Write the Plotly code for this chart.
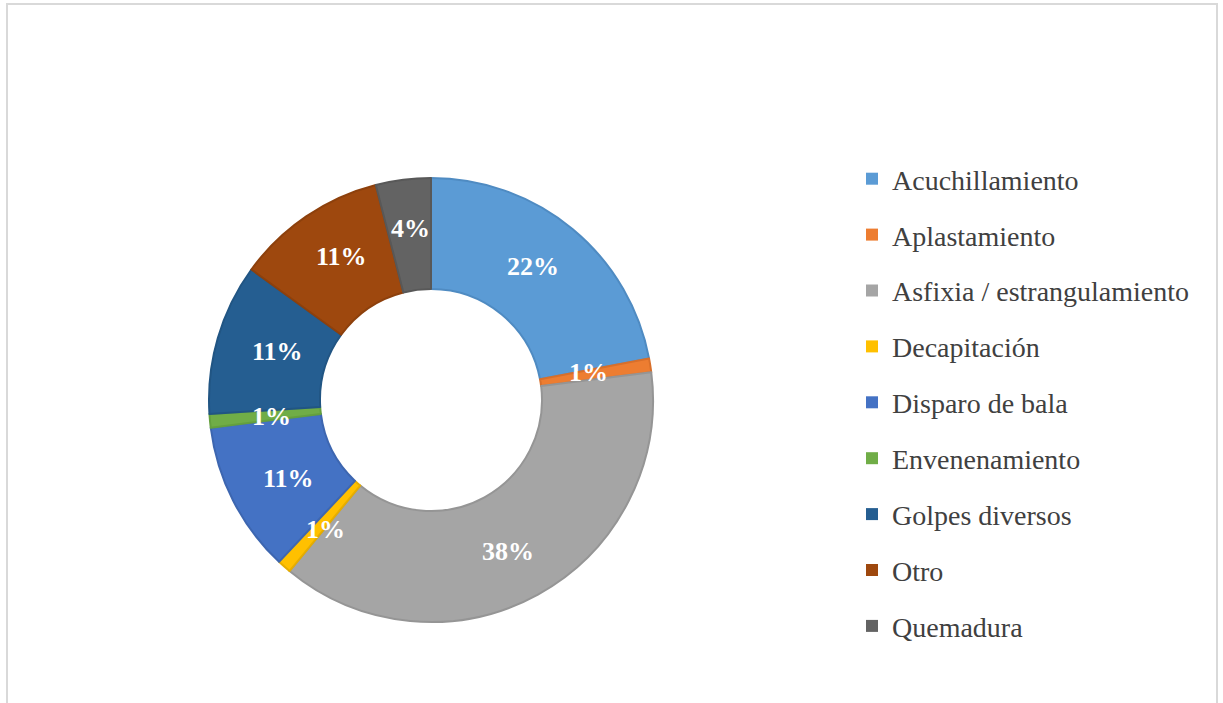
import math
import plotly.graph_objects as go

categories = ["Acuchillamiento", "Aplastamiento", "Asfixia / estrangulamiento",
              "Decapitación", "Disparo de bala", "Envenenamiento",
              "Golpes diversos", "Otro", "Quemadura"]
values = [22, 1, 38, 1, 11, 1, 11, 11, 4]
colors = ["#5B9BD5", "#ED7D31", "#A5A5A5", "#FFC000", "#4472C4",
          "#70AD47", "#255E91", "#9E480E", "#636363"]
line_colors = ["#4F8BC2", "#D86F2A", "#959595", "#E6AD00", "#3D66B0",
               "#64A03E", "#215583", "#8D400C", "#585858"]

W, H = 1223, 703
cx, cy, r = 431, 400, 222
HOLE = 0.5

fig = go.Figure()
fig.add_trace(go.Pie(
    labels=categories, values=values, sort=False, direction="clockwise",
    rotation=0, hole=HOLE,
    marker=dict(colors=colors, line=dict(color=line_colors, width=2)),
    textinfo="none",
    domain=dict(x=[(cx - r) / W, (cx + r) / W], y=[1 - (cy + r) / H, 1 - (cy - r) / H]),
    showlegend=False, hoverinfo="label+percent",
))

# percentage labels at the middle of each slice (angle and ring radius)
total = sum(values)
cum = 0
rm = r * (1 + HOLE) / 2
annotations = []
for v in values:
    mid = (cum + v / 2) / total
    cum += v
    th = 2 * math.pi * mid
    px = cx + 0.96 * rm * math.sin(th)
    py = cy - 1.04 * rm * math.cos(th)
    annotations.append(dict(
        x=px / W, y=1 - py / H, xref="paper", yref="paper", showarrow=False,
        xanchor="center", yanchor="middle",
        text=f"{round(100 * v / total)}%",
        font=dict(family="Liberation Serif", size=26, color="white", weight="bold"),
    ))

for i, (c, col) in enumerate(zip(categories, colors)):
    fig.add_trace(go.Scatter(
        x=[None], y=[None], mode="markers", name=c, legendgroup=f"g{i}",
        marker=dict(symbol="square", size=13, color=col),
    ))

fig.update_layout(
    width=W, height=H,
    margin=dict(l=0, r=0, t=0, b=0),
    paper_bgcolor="white", plot_bgcolor="white",
    xaxis=dict(visible=False), yaxis=dict(visible=False),
    showlegend=True,
    legend=dict(x=852 / W, xanchor="left", y=1 - 154 / H, yanchor="top",
                font=dict(family="Liberation Serif", size=28, color="#404040"),
                tracegroupgap=16.5, itemsizing="constant"),
    annotations=annotations,
    shapes=[dict(type="rect", xref="paper", yref="paper",
                 x0=7 / W, x1=1217 / W, y0=-0.05, y1=1 - 4 / H,
                 line=dict(color="#D9D9D9", width=2), fillcolor="rgba(0,0,0,0)")],
)

fig.write_html("out.html", config={"displayModeBar": False},
               post_script="document.body.style.margin='0';")
